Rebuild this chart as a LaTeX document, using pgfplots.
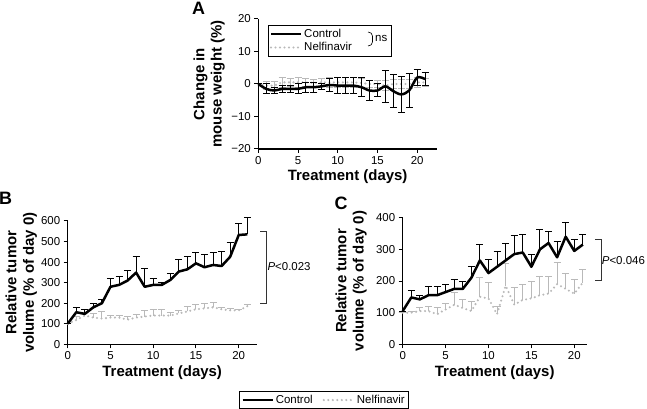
\documentclass[border=0pt]{standalone}
\usepackage{pgfplots}
\pgfplotsset{compat=1.18}
\usepackage{fontspec}
\setmainfont{Liberation Sans}
\definecolor{lg}{RGB}{185,185,185}

% Panel A: change in mouse weight (%), symmetric error
\pgfplotstableread{
x y e
0 0 0
1 -1.5 1.5
2 -2 1
3 -1.5 1
4 -1.5 1
5 -1.5 1.5
6 -1 1.5
7 -1 1.5
8 -0.7 1
9 -0.3 2
10 -0.5 2.5
11 -0.5 2.5
12 -0.5 2.5
13 -1 3
14 -2 3
15 -2 2
16 -0.7 5
17 -2.2 5
18 -3.2 5.5
19 -2 5.2
20 2 2.6
21 1.5 2
}\Actrl
\pgfplotstableread{
x y e
0 0 0
1 -0.5 1.2
2 -0.5 1.2
3 0.5 1.5
4 0.5 1.2
5 0.5 1.5
6 0.5 1.2
7 0.3 1.2
8 0.5 1.2
9 0.5 1.5
10 0.5 1.5
11 0.5 1.5
12 0.5 1.5
13 0.3 1.5
14 0 1.2
15 0 1.2
16 -0.5 1.5
17 0 1.5
18 0 1.5
19 0 1.5
20 0.5 1.5
21 0.5 1.2
}\Anelf
% Panel B: relative tumour volume, upper error only
\pgfplotstableread{
x y e
0 100 0
1 156 24
2 148 22
3 180 20
4 200 20
5 280 41
6 289 43
7 310 47
8 349 77
9 280 90
10 289 29
11 289 13
12 313 32
13 354 61
14 365 61
15 394 52
16 375 64
17 386 60
18 381 70
19 426 69
20 532 57
21 535 83
}\Bctrl
\pgfplotstableread{
x y e
0 100 0
1 118 15
2 140 15
3 130 20
4 125 35
5 130 10
6 130 10
7 120 15
8 130 15
9 135 30
10 140 30
11 140 28
12 140 15
13 150 15
14 160 25
15 170 25
16 175 25
17 180 25
18 170 10
19 165 10
20 165 5
21 185 10
}\Bnelf
% Panel C
\pgfplotstableread{
x y e
0 105 0
1 148 22
2 142 13
3 155 27
4 155 27
5 165 25
6 175 30
7 175 25
8 210 35
9 265 50
10 225 43
11 245 47
12 265 53
13 285 60
14 290 58
15 245 40
16 300 62
17 320 35
18 275 50
19 340 45
20 295 35
21 315 32
}\Cctrl
\pgfplotstableread{
x y e
0 100 0
1 100 5
2 105 10
3 105 15
4 95 20
5 110 20
6 125 40
7 115 25
8 105 30
9 150 60
10 145 50
11 95 25
12 185 70
13 125 55
14 140 50
15 145 55
16 155 60
17 160 55
18 190 70
19 175 50
20 160 45
21 195 40
}\Cnelf

\pgfplotsset{
  panel/.style={
    scale only axis, anchor=south west,
    axis x line*=bottom, axis y line*=left,
    axis line style={line width=1.2bp, black},
    tick align=outside, major tick length=4bp,
    tick style={line width=1bp, black},
    tick label style={font=\fontsize{11.5}{13}\selectfont},
    /pgf/number format/assume math mode=true,
    label style={font=\bfseries\fontsize{15}{17.5}\selectfont, align=center},
    xtick={0,5,10,15,20},
    xmin=0,
    xlabel={Treatment (days)},
    xlabel style={at={(axis description cs:0.5,0)}, anchor=center, yshift=-28bp},
    clip=false,
    reverse legend,
    legend cell align=left,
    legend image code/.code={\draw[#1] (0bp,0bp) -- (30bp,0bp);},
    legend style={draw=black, line width=0.6bp,
      font=\fontsize{11.5}{13}\selectfont, inner sep=1.5bp},
  },
  ctrl/.style={black, line width=2.5bp, line join=round, no marks,
    error bars/y dir=plus, error bars/y explicit,
    error bars/error bar style={black, line width=1bp, solid},
    error bars/error mark options={rotate=90, mark size=3.5bp, line width=1bp, black}},
  nelf/.style={lg, line width=2.3bp, line cap=round, dash pattern=on 0bp off 4.5bp, no marks,
    error bars/y dir=plus, error bars/y explicit,
    error bars/error bar style={lg, line width=1bp, solid, line cap=butt},
    error bars/error mark options={rotate=90, mark size=3.5bp, line width=1bp, lg, solid, line cap=butt}},
}

\begin{document}
\begin{tikzpicture}
\useasboundingbox (0,0) rectangle (647bp,409bp);

% ---------- Panel A ----------
\begin{axis}[panel,
  at={(258.3bp,260bp)}, width=178.7bp, height=130bp,
  xmax=22.5, ymin=-20, ymax=20,
  ytick={-20,-10,0,10,20},
  yticklabels={−20,−10,0,10,20},
  ylabel={Change in\\mouse weight (\%)},
  ylabel style={at={(axis description cs:-0.186,0.5)}, anchor=south, inner sep=0bp},
  legend style={at={(axis description cs:0.054,0.95)}, anchor=north west, row sep=-0.5bp},
]
\addplot[nelf, error bars/y dir=both] table[x=x, y=y, y error=e] {\Anelf};
\addplot[ctrl, smooth, error bars/y dir=both] table[x=x, y=y, y error=e] {\Actrl};
\legend{\makebox[84bp][l]{Nelfinavir},\makebox[40bp][l]{Control}}
\end{axis}
\draw[black, line width=0.6bp] (368bp,377bp) to[out=0,in=90] (372.5bp,373bp) -- (372.5bp,367bp) to[out=-90,in=0] (368bp,363bp);
\node[anchor=west, inner sep=0bp, font=\fontsize{11.5}{13}\selectfont] at (375bp,371bp) {ns};

% ---------- Panel B ----------
\begin{axis}[panel,
  at={(67.7bp,64.7bp)}, width=189bp, height=123.3bp,
  xmax=22.1, ymin=0, ymax=600,
  ytick={0,100,200,300,400,500,600},
  ylabel={Relative tumor\\volume (\% of day 0)},
  ylabel style={at={(axis description cs:-0.162,0.5)}, anchor=south, inner sep=0bp},
  legend columns=2,
  legend style={at={(axis description cs:1.356,-0.452)}, anchor=center,
    /tikz/every even column/.append style={column sep=8bp}},
]
\addplot[nelf] table[x=x, y=y, y error=e] {\Bnelf};
\addplot[ctrl] table[x=x, y=y, y error=e] {\Bctrl};
\draw[black!80, line width=0.7bp] (axis cs:22.5,548) -- (axis cs:23.25,548) -- (axis cs:23.25,200) -- (axis cs:22.5,200);
\node[anchor=west, inner sep=0bp, font=\fontsize{11.5}{13}\selectfont] at (axis cs:23.35,376) {\textit{P}<0.023};
\legend{Nelfinavir,Control}
\end{axis}

% ---------- Panel C ----------
\begin{axis}[panel,
  at={(402.7bp,64.7bp)}, width=184bp, height=126.6bp,
  xmax=21.45, ymin=0, ymax=400,
  ytick={0,100,200,300,400},
  ylabel={Relative tumor\\volume (\% of day 0)},
  ylabel style={at={(axis description cs:-0.194,0.5)}, anchor=south, inner sep=0bp},
]
\addplot[nelf] table[x=x, y=y, y error=e] {\Cnelf};
\addplot[ctrl] table[x=x, y=y, y error=e] {\Cctrl};
\draw[black!80, line width=0.7bp] (axis cs:22.4,332) -- (axis cs:23.1,332) -- (axis cs:23.1,201) -- (axis cs:22.4,201);
\node[anchor=west, inner sep=0bp, font=\fontsize{11.5}{13}\selectfont] at (axis cs:23.2,266) {\textit{P}<0.046};
\end{axis}

% panel letters
\node[font=\bfseries\fontsize{18}{20}\selectfont, inner sep=0bp] at (198.5bp,400.5bp) {A};
\node[font=\bfseries\fontsize{18}{20}\selectfont, inner sep=0bp] at (5.5bp,210.5bp) {B};
\node[font=\bfseries\fontsize{18}{20}\selectfont, inner sep=0bp] at (341bp,205.5bp) {C};
\end{tikzpicture}
\end{document}
